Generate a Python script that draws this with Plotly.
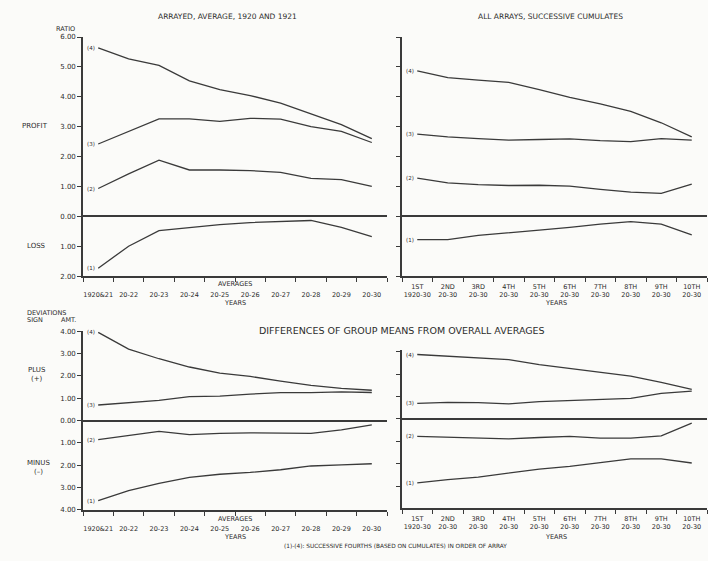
import plotly.graph_objects as go

W, H = 708, 561

# ---------------- data ----------------
avg_years = ["1920&21", "20-22", "20-23", "20-24", "20-25", "20-26",
             "20-27", "20-28", "20-29", "20-30"]
cum_years = ["1ST<br>1920-30", "2ND<br>20-30", "3RD<br>20-30", "4TH<br>20-30",
             "5TH<br>20-30", "6TH<br>20-30", "7TH<br>20-30", "8TH<br>20-30",
             "9TH<br>20-30", "10TH<br>20-30"]

# Top-left: arrayed, average (ratio; loss negative)
tl_g4 = [5.64, 5.27, 5.05, 4.53, 4.24, 4.04, 3.79, 3.43, 3.07, 2.60]
tl_g3 = [2.42, 2.85, 3.26, 3.26, 3.18, 3.28, 3.25, 3.00, 2.84, 2.47]
tl_g2 = [0.93, 1.42, 1.88, 1.55, 1.55, 1.53, 1.47, 1.27, 1.23, 1.00]
tl_g1 = [-1.74, -1.00, -0.48, -0.37, -0.28, -0.21, -0.17, -0.14, -0.37, -0.68]

# Top-right: successive cumulates
tr_g4 = [4.87, 4.64, 4.56, 4.48, 4.24, 3.98, 3.76, 3.51, 3.13, 2.66]
tr_g3 = [2.75, 2.66, 2.60, 2.55, 2.57, 2.59, 2.53, 2.50, 2.60, 2.55]
tr_g2 = [1.28, 1.12, 1.06, 1.03, 1.04, 1.01, 0.90, 0.81, 0.77, 1.08]
tr_g1 = [-0.78, -0.78, -0.64, -0.54, -0.46, -0.37, -0.26, -0.18, -0.26, -0.62]

# Bottom-left: deviations, averages
bl_g4 = [3.95, 3.20, 2.77, 2.40, 2.13, 1.98, 1.77, 1.58, 1.44, 1.36]
bl_g3 = [0.70, 0.80, 0.91, 1.07, 1.10, 1.19, 1.25, 1.25, 1.29, 1.26]
bl_g2 = [-0.85, -0.66, -0.48, -0.63, -0.57, -0.55, -0.55, -0.57, -0.41, -0.19]
bl_g1 = [-3.58, -3.13, -2.81, -2.54, -2.40, -2.32, -2.20, -2.03, -1.98, -1.93]

# Bottom-right: deviations, cumulates
br_g4 = [2.88, 2.80, 2.73, 2.65, 2.43, 2.25, 2.10, 1.91, 1.63, 1.32]
br_g3 = [0.70, 0.74, 0.73, 0.67, 0.77, 0.82, 0.84, 0.92, 1.14, 1.24]
br_g2 = [-0.78, -0.81, -0.86, -0.89, -0.83, -0.78, -0.86, -0.86, -0.76, -0.19]
br_g1 = [-2.86, -2.71, -2.60, -2.41, -2.24, -2.12, -1.94, -1.79, -1.79, -1.97]

group_labels = ["(1)", "(2)", "(3)", "(4)"]
ratio_ticks = [-2, -1, 0, 1, 2, 3, 4, 5, 6]
dev_ticks = [-4, -3, -2, -1, 0, 1, 2, 3, 4]
dev_ticks_r = [-3, -2, -1, 0, 1, 2, 3]

# ---------------- styling ----------------
INK = "#2b2b2b"
LINE = "#3a3a3a"
FONT = "DejaVu Sans"
BG = "#fbfbf9"


def px(x):
    return x / W


def py(y):
    return 1 - y / H


fig = go.Figure()

panels = [
    ("x", "y", avg_years, [tl_g1, tl_g2, tl_g3, tl_g4]),
    ("x2", "y2", cum_years, [tr_g1, tr_g2, tr_g3, tr_g4]),
    ("x3", "y3", avg_years, [bl_g1, bl_g2, bl_g3, bl_g4]),
    ("x4", "y4", cum_years, [br_g1, br_g2, br_g3, br_g4]),
]

annotations = []
for xa, ya, cats, groups in panels:
    for lab, vals in zip(group_labels, groups):
        fig.add_trace(go.Scatter(
            x=cats, y=vals, xaxis=xa, yaxis=ya, mode="lines",
            line=dict(color=LINE, width=1.3), showlegend=False,
            hoverinfo="skip"))
        annotations.append(dict(
            x=cats[0], y=vals[0], xref=xa, yref=ya, text=lab,
            showarrow=False, xanchor="right", yanchor="middle", xshift=-1,
            font=dict(family=FONT, size=5.5, color=INK)))

axis_common = dict(showgrid=False, showline=True, linecolor=LINE, linewidth=1.6,
                   ticks="outside", ticklen=4, tickwidth=1.2, tickcolor=LINE,
                   tickfont=dict(family=FONT, size=7, color=INK))

xcat = dict(axis_common, type="category", range=[-0.5, 9.5],
            tickson="boundaries", zeroline=False, tickangle=0,
            tickfont=dict(family=FONT, size=6.5, color=INK))

yz = dict(axis_common, zeroline=True, zerolinecolor=LINE, zerolinewidth=2.2)

L0, L1 = px(83), px(387)
R0, R1 = px(402), px(707)

fig.update_layout(
    width=W, height=H,
    margin=dict(l=0, r=0, t=0, b=0),
    paper_bgcolor=BG, plot_bgcolor=BG,
    xaxis=dict(xcat, domain=[L0, L1], anchor="y", ticklabelstandoff=11),
    yaxis=dict(yz, domain=[py(276), py(33.5)], range=[-2, 6], anchor="x",
               tickvals=ratio_ticks,
               ticktext=[f"{abs(v):.2f}" for v in ratio_ticks]),
    xaxis2=dict(xcat, domain=[R0, R1], anchor="y2", ticklabelstandoff=3),
    yaxis2=dict(yz, domain=[py(276), py(33.5)], range=[-2, 6], anchor="x2",
                tickvals=ratio_ticks, showticklabels=False),
    xaxis3=dict(xcat, domain=[L0, L1], anchor="y3", ticklabelstandoff=11),
    yaxis3=dict(yz, domain=[py(513.3), py(332)], range=[-4, 4], anchor="x3",
                tickvals=dev_ticks,
                ticktext=[f"{abs(v):.2f}" for v in dev_ticks]),
    xaxis4=dict(xcat, domain=[R0, R1], anchor="y4", ticklabelstandoff=3),
    yaxis4=dict(yz, domain=[py(511.7), py(350.6)], range=[-4, 3.1], anchor="x4",
                tickvals=dev_ticks_r, showticklabels=False),
)


def note(text, x, y, size=7, xanchor="center", align="center"):
    annotations.append(dict(
        text=text, x=px(x), y=py(y), xref="paper", yref="paper",
        showarrow=False, xanchor=xanchor, yanchor="middle", align=align,
        font=dict(family=FONT, size=size, color=INK)))


note("ARRAYED, AVERAGE, 1920 AND 1921", 228, 13, size=7.5)
note("ALL ARRAYS, SUCCESSIVE CUMULATES", 550, 13, size=7.5)
note("DIFFERENCES OF GROUP MEANS FROM OVERALL AVERAGES", 402, 331, size=9.5)
note("RATIO", 77, 25, size=6.5, xanchor="right")
note("PROFIT", 35, 124, size=7)
note("LOSS", 36, 246, size=7)
note("DEVIATIONS", 25, 313, size=6.5, xanchor="left")
note("SIGN", 25, 321, size=6.5, xanchor="left")
note("AMT.", 78, 321, size=6.5, xanchor="right")
note("PLUS<br>(+)", 37, 376, size=7)
note("MINUS<br>(\u2013)", 38, 470, size=7)
note("AVERAGES", 235, 284, size=6.5)
note("YEARS", 235, 303, size=6.5)
note("YEARS", 556, 303, size=6.5)
note("AVERAGES", 235, 522, size=6.5)
note("YEARS", 235, 541, size=6.5)
note("YEARS", 556, 541, size=6.5)
note("(1)-(4): SUCCESSIVE FOURTHS (BASED ON CUMULATES) IN ORDER OF ARRAY",
     395, 550, size=5.8)

fig.update_layout(annotations=annotations)

fig.write_html("out.html",
               config={"displayModeBar": False},
               post_script="document.body.style.margin='0';"
                           "document.body.style.padding='0';")
